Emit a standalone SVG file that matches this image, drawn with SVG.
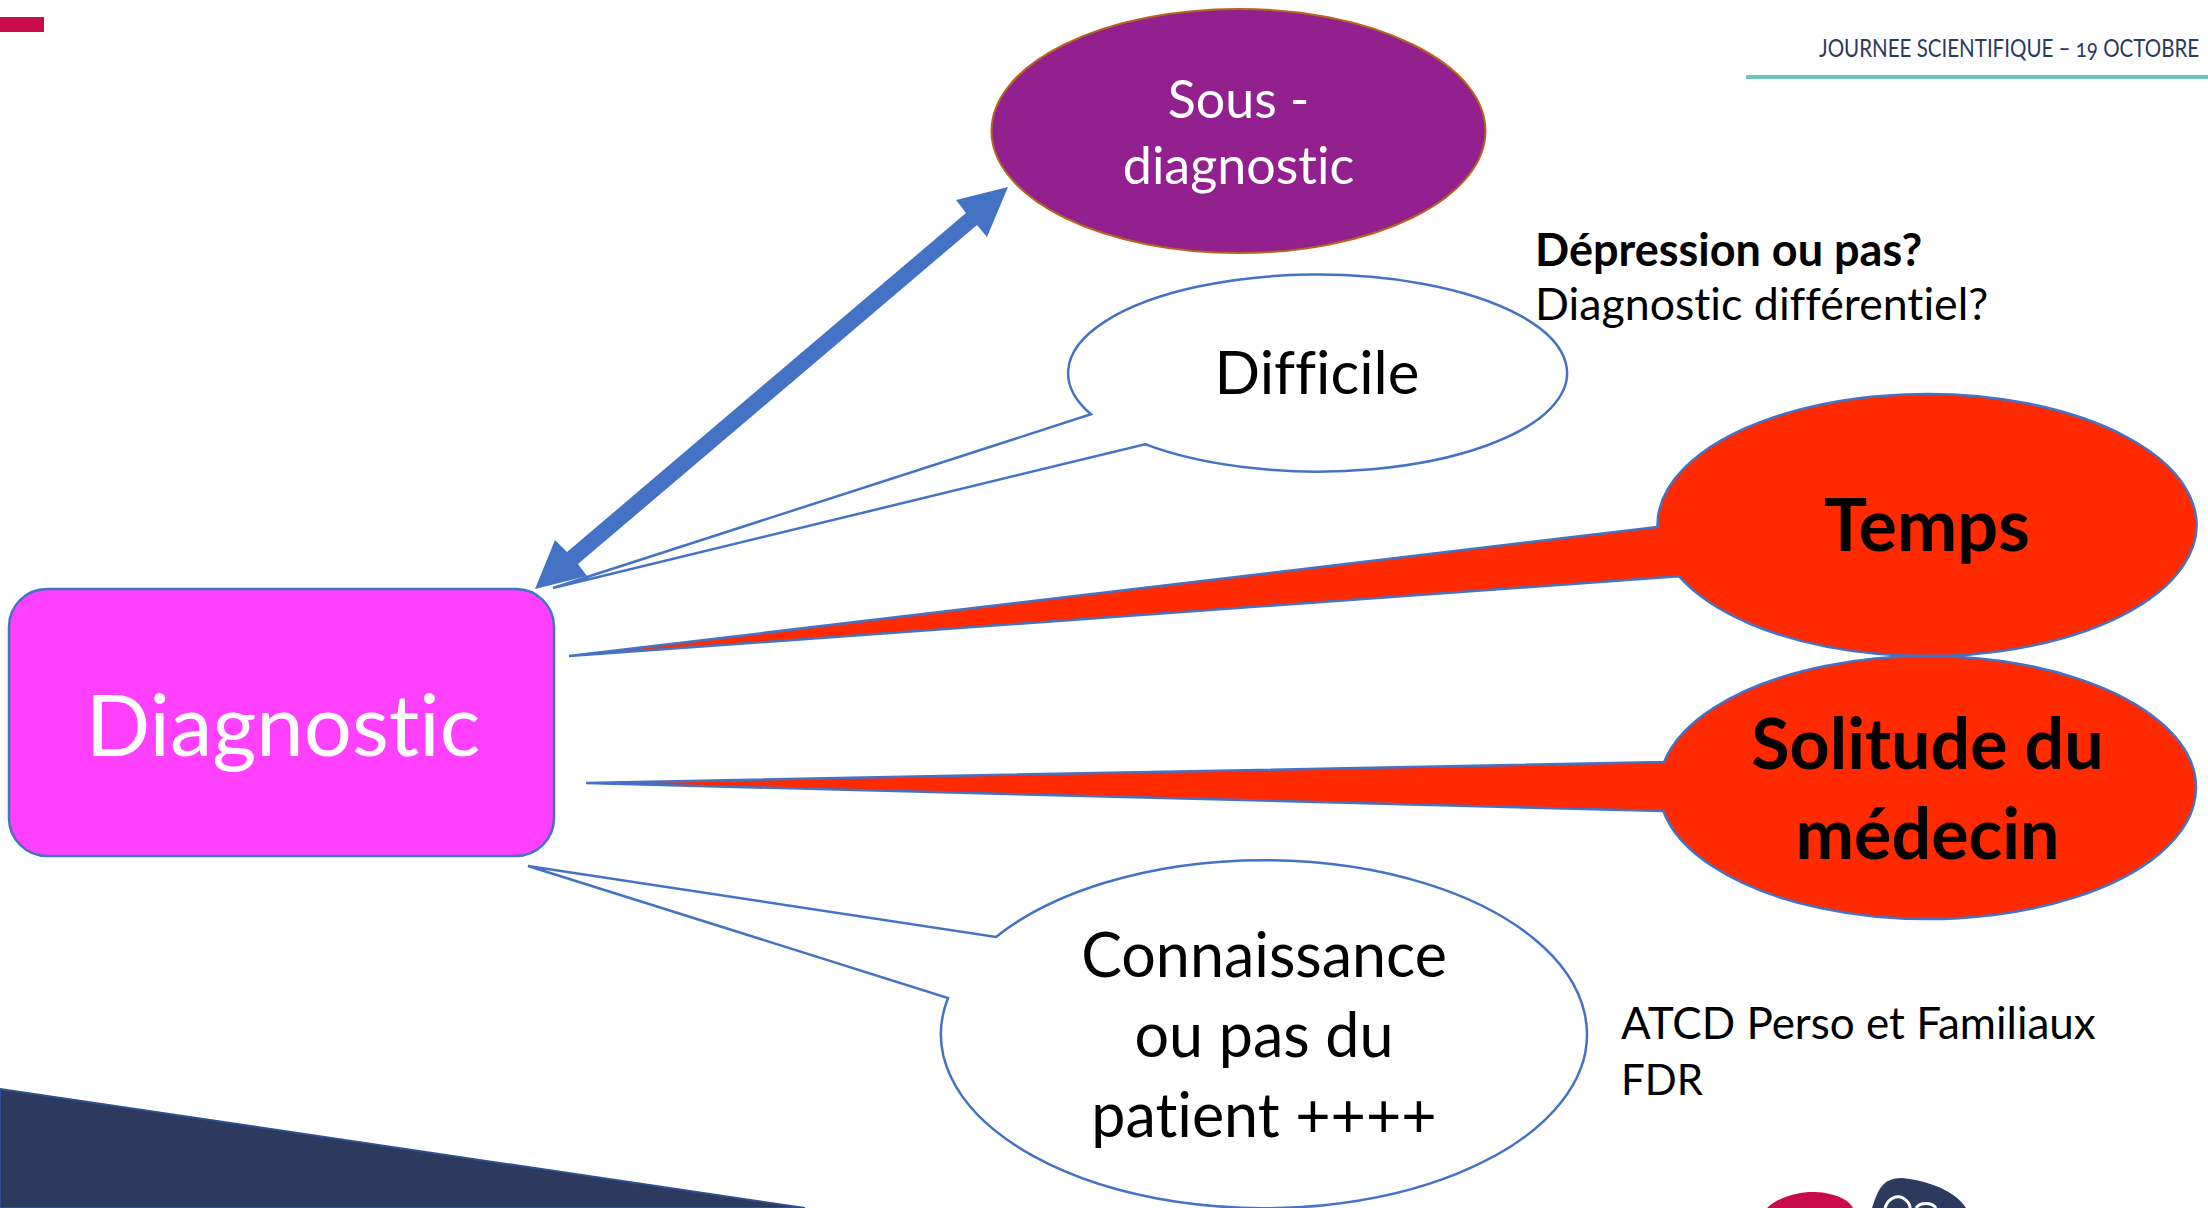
<svg xmlns="http://www.w3.org/2000/svg" width="2208" height="1208" viewBox="0 0 2208 1208">
<style>
text{font-family:"Lato","Liberation Sans",sans-serif;text-anchor:middle;fill:#000;font-variant-ligatures:none}
.b{stroke:#4472C4;stroke-width:2.5}
.l{text-anchor:start}
.r{fill:#FF2A00}
.o{fill:#fff}
.h{font-weight:700}
.t{fill:#fff}
</style>
<rect width="2208" height="1208" fill="#fff"/>
<g id="decor">
<rect x="0" y="17" width="44" height="15" fill="#C90A4B"/>
<rect x="1746" y="75" width="462" height="4" fill="#6EC5BE"/>
<text class="l" transform="translate(1819 57) scale(.79 1)" font-size="26" style="fill:#2C3A5E;font-variant-numeric:oldstyle-nums">JOURNEE SCIENTIFIQUE – 19 OCTOBRE</text>
<path d="M0 1089L805 1208H0Z" fill="#2C3A5E" stroke="#2F4F8F" stroke-width="2"/>
<path d="M1767 1208C1780 1196 1800 1192 1812 1192C1830 1192 1848 1198 1853 1208Z" fill="#C90A4B"/>
<path d="M1872 1208C1878 1190 1882 1178 1902 1178C1925 1180 1955 1190 1966 1208Z" fill="#2C3A5E"/>
<path d="M1885 1208C1888 1198 1897 1195 1903 1198C1908 1201 1910 1205 1910 1208M1916 1208C1920 1202 1932 1202 1936 1208" fill="none" stroke="#fff" stroke-width="3"/>
</g>
<g id="connectors">
<polygon points="535,589 555,540 567,552 966,213 956,200 1008,187 987,237 977,225 578,564 587,576" fill="#4472C4"/>
</g>
<g id="node-diagnostic">
<rect class="b" x="9" y="589" width="545" height="267" rx="38" fill="#FF40FF"/>
<text class="t" x="283" y="756" font-size="85" style="fill:#fff">Diagnostic</text>
</g>
<g id="node-sous-diagnostic">
<ellipse cx="1238.5" cy="131" rx="247" ry="122" fill="#92208F" stroke="#B5651D" stroke-width="2"/>
<text x="1238.5" y="118" font-size="52" style="fill:#fff">Sous -</text>
<text x="1238.5" y="184" font-size="52" style="fill:#fff">diagnostic</text>
</g>
<g id="node-difficile">
<path class="b o" d="M553 588L1091 414.3A249.5 98.5 0 1 1 1145 444.2Z"/>
<text x="1317" y="394" font-size="60">Difficile</text>
</g>
<g id="node-temps">
<path class="b r" d="M569 656L1657.53 527A269.5 131 0 1 1 1679 576.3Z"/>
<text class="h" x="1927" y="551" font-size="72">Temps</text>
</g>
<g id="node-solitude">
<path class="b r" d="M586 783L1664.1 762A268.5 131.5 0 1 1 1663.3 811Z"/>
<text class="h" x="1927.5" y="769" font-size="70">Solitude du</text>
<text class="h" x="1927.5" y="859" font-size="70">médecin</text>
</g>
<g id="node-connaissance">
<path class="b o" d="M528 866L996 937A323 174 0 1 1 948 998Z"/>
<text x="1264" y="977" font-size="61">Connaissance</text>
<text x="1264" y="1057" font-size="61">ou pas du</text>
<text x="1264" y="1137" font-size="61">patient ++++</text>
</g>
<g id="notes">
<text class="l h" x="1535" y="266" font-size="45">Dépression ou pas?</text>
<text class="l" x="1535" y="320" font-size="44.7">Diagnostic différentiel?</text>
<text class="l" x="1621" y="1039" font-size="44">ATCD Perso et Familiaux</text>
<text class="l" x="1621" y="1095" font-size="42">FDR</text>
</g>
</svg>
